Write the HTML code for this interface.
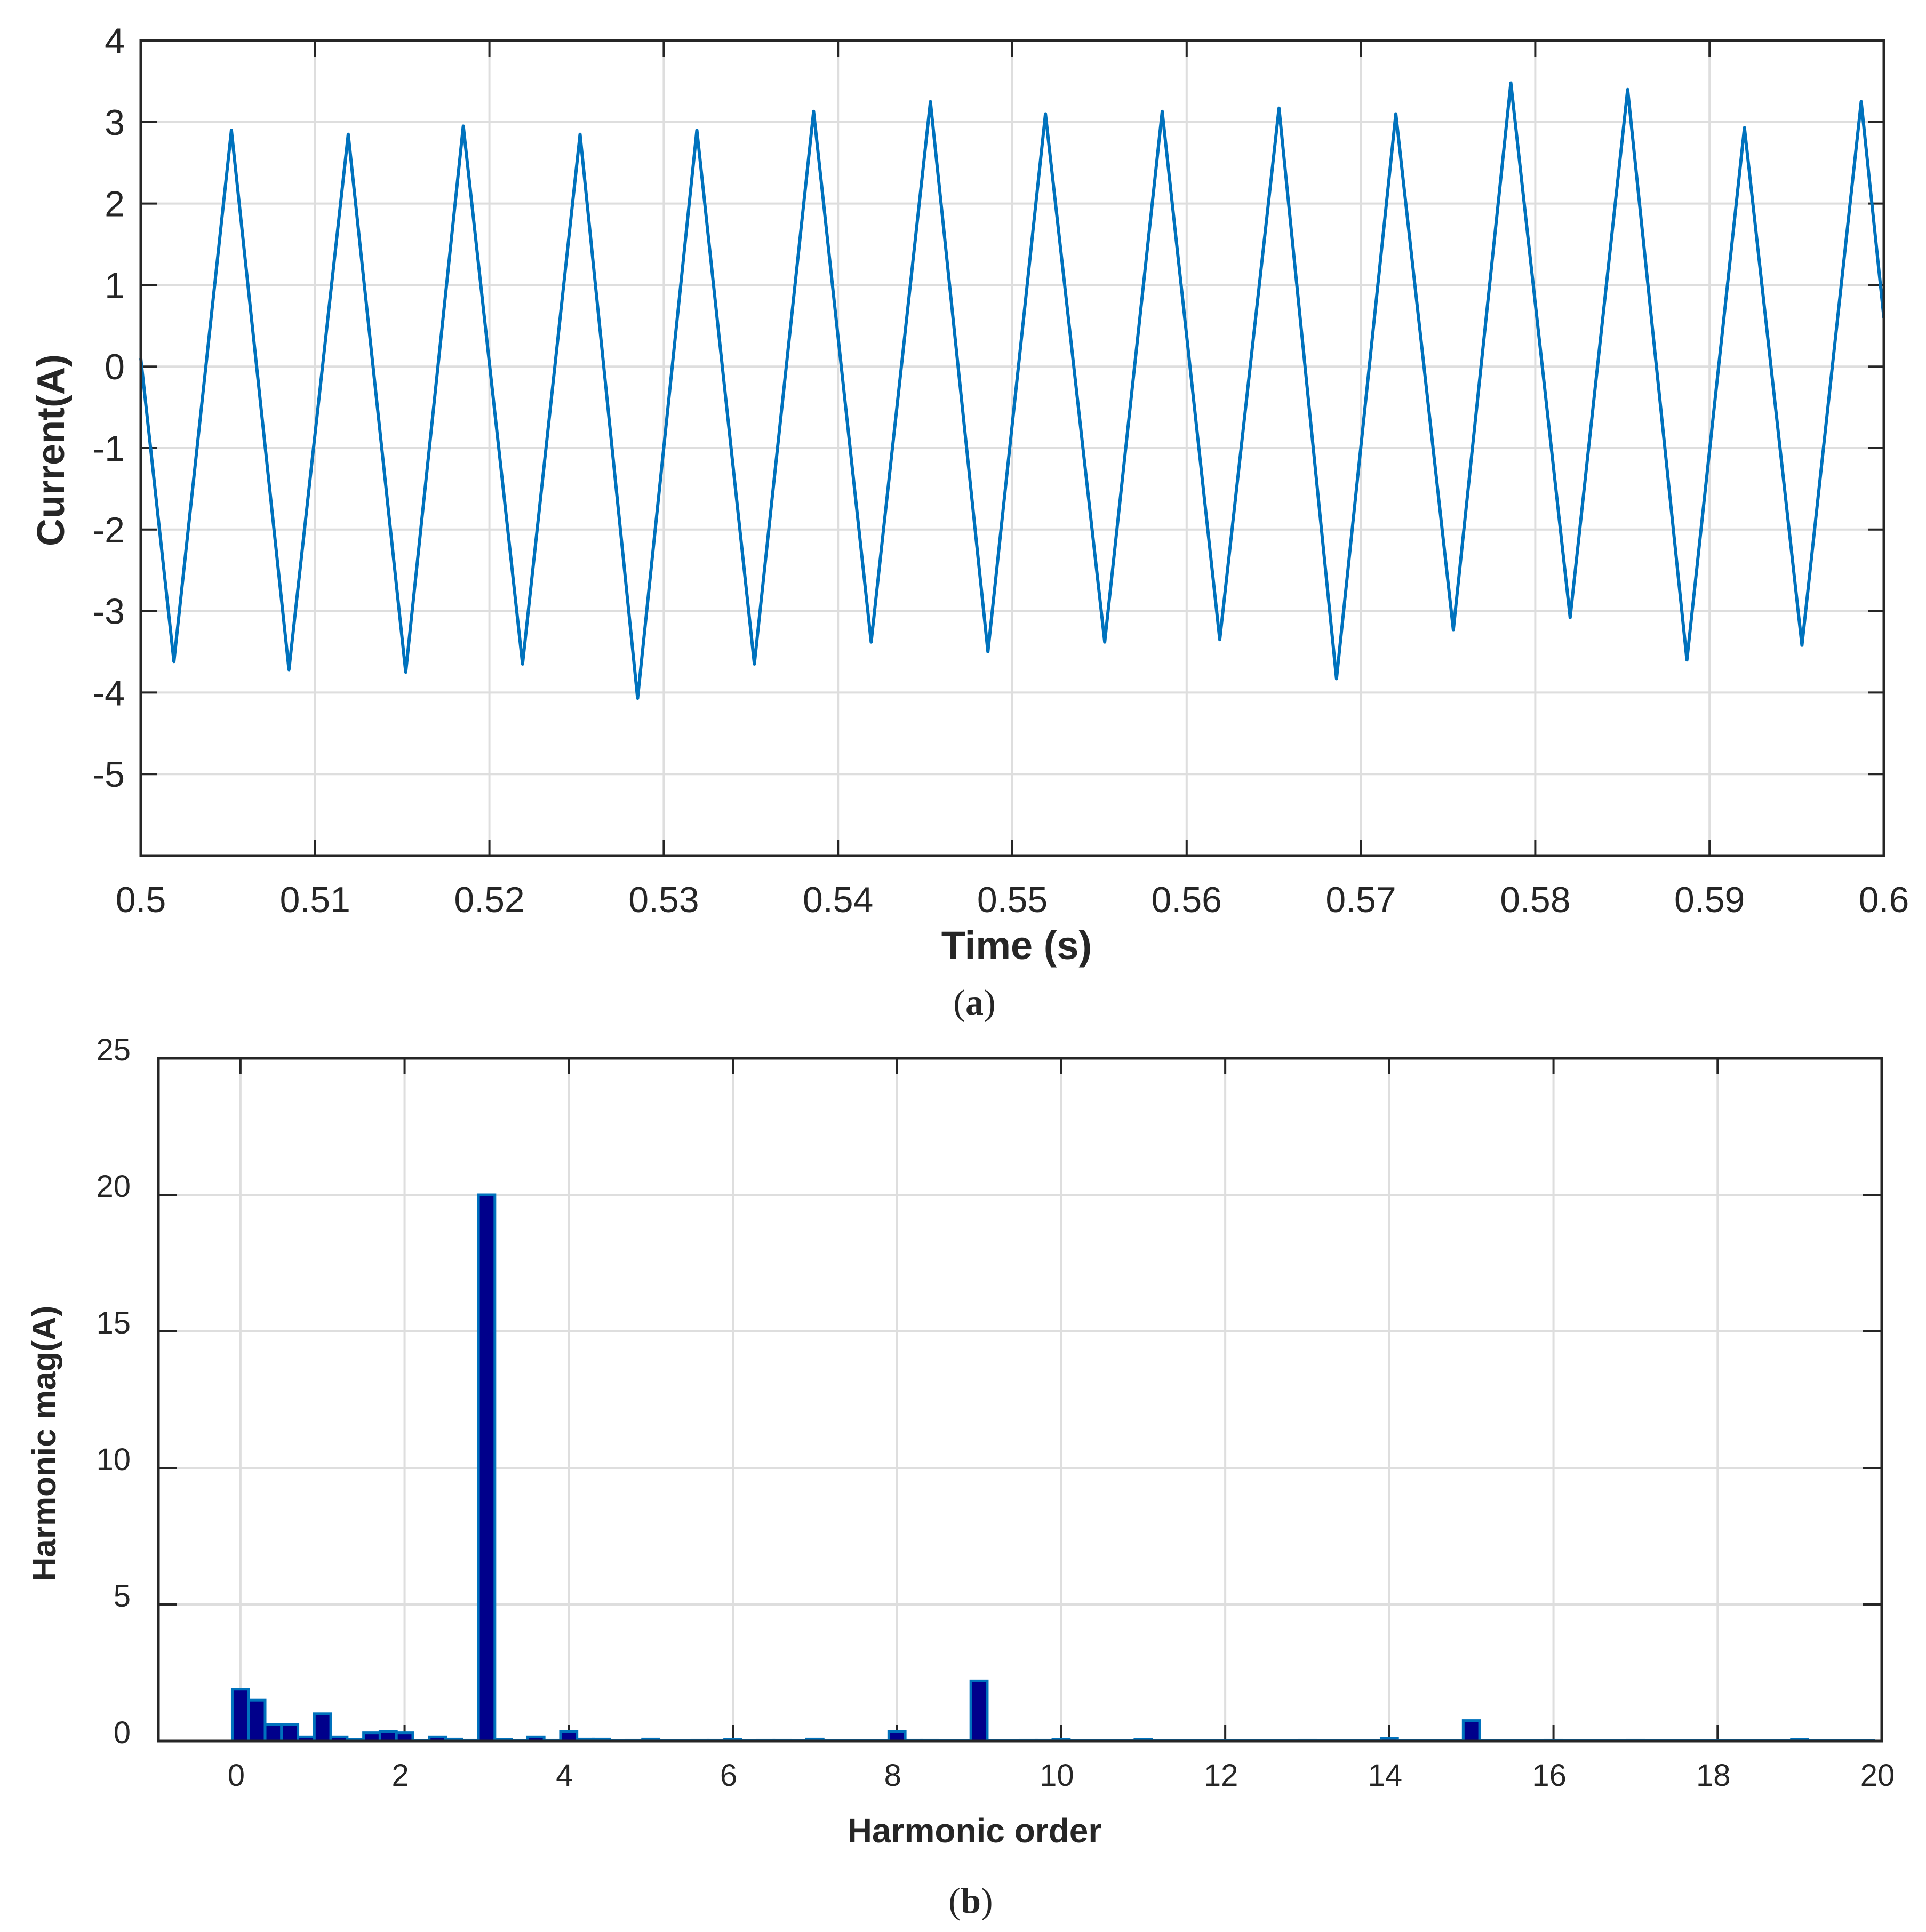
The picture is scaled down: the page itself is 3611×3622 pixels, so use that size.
<!DOCTYPE html>
<html><head><meta charset="utf-8"><style>
html,body{margin:0;padding:0;background:#fff}
svg{display:block}
text{font-family:"Liberation Sans",Arial,sans-serif;fill:#262626}
</style></head><body>
<svg id="fig" width="3611" height="3622" viewBox="0 0 3611 3622" xmlns="http://www.w3.org/2000/svg">
<g id="topChart"></g>
<g id="botChart"></g>
<text x="1827" y="1902" font-size="68" text-anchor="middle" style="font-family:'Liberation Serif',serif">(<tspan font-weight="bold">a</tspan>)</text>
<text x="1820" y="3586" font-size="68" text-anchor="middle" style="font-family:'Liberation Serif',serif">(<tspan font-weight="bold">b</tspan>)</text>
</svg>
<script>
// ---- top chart data ----
const waveT = [0.5,0.5019,0.5052,0.5085,0.5119,0.5152,0.5185,0.5219,0.5252,0.5285,0.5319,0.5352,0.5386,0.5419,0.5453,0.5486,0.5519,0.5553,0.5586,0.5619,0.5653,0.5686,0.5720,0.5753,0.5786,0.5820,0.5853,0.5887,0.5920,0.5953,0.5987,0.6];
const waveI = [0.1,-3.62,2.9,-3.72,2.85,-3.75,2.95,-3.65,2.85,-4.07,2.9,-3.65,3.13,-3.38,3.25,-3.5,3.1,-3.38,3.13,-3.35,3.17,-3.83,3.1,-3.23,3.48,-3.08,3.4,-3.6,2.93,-3.42,3.25,0.6];
const topXTicks = [0.5,0.51,0.52,0.53,0.54,0.55,0.56,0.57,0.58,0.59,0.6];
const topXLabels = ["0.5","0.51","0.52","0.53","0.54","0.55","0.56","0.57","0.58","0.59","0.6"];
const topYTicks = [4,3,2,1,0,-1,-2,-3,-4,-5];
// ---- bottom chart data ----
const harmOrder = [];
for (let i=0;i<100;i++) harmOrder.push(+(i*0.2).toFixed(1));
const harmMag = [1.9,1.5,0.6,0.6,0.15,1.0,0.15,0.05,0.3,0.35,0.3,0.02,0.15,0.07,0.03,20,0.05,0.02,0.15,0.03,
0.35,0.07,0.07,0.02,0.03,0.07,0.02,0.02,0.03,0.03,0.05,0.02,0.03,0.03,0.02,0.07,0.02,0.02,0.02,0.02,
0.35,0.03,0.03,0.02,0.02,2.2,0.02,0.02,0.03,0.03,0.05,0.02,0.02,0.02,0.02,0.05,0.02,0.02,0.02,0.02,
0.02,0.02,0.02,0.02,0.02,0.03,0.02,0.02,0.02,0.02,0.1,0.02,0.02,0.02,0.02,0.75,0.02,0.02,0.02,0.02,
0.03,0.02,0.02,0.02,0.02,0.03,0.02,0.02,0.02,0.02,0.02,0.02,0.02,0.02,0.02,0.05,0.02,0.02,0.02,0.02];
const botXTicks = [0,2,4,6,8,10,12,14,16,18,20];
const botYTicks = [0,5,10,15,20,25];

const NS="http://www.w3.org/2000/svg";
function mk(parent,tag,attrs,txt){const e=document.createElementNS(NS,tag);for(const k in attrs)e.setAttribute(k,attrs[k]);if(txt!==undefined)e.textContent=txt;parent.appendChild(e);return e;}

// top axes
const T={l:264,r:3532,t:76,b:1604,x0:0.5,x1:0.6,y0:-6,y1:4};
const tx=v=>T.l+(v-T.x0)/(T.x1-T.x0)*(T.r-T.l);
const ty=v=>T.b-(v-T.y0)/(T.y1-T.y0)*(T.b-T.t);
const topG=document.getElementById('topChart');
topXTicks.forEach((v,i)=>{
  const g=mk(topG,'line',{x1:tx(v),x2:tx(v),y1:T.t,y2:T.b,stroke:'#dedede','stroke-width':4});
  
  
  mk(topG,'line',{x1:tx(v),x2:tx(v),y1:T.b,y2:T.b-30,stroke:'#262626','stroke-width':4});
  mk(topG,'line',{x1:tx(v),x2:tx(v),y1:T.t,y2:T.t+30,stroke:'#262626','stroke-width':4});
  const l=mk(topG,'text',{x:tx(v),y:1710,'font-size':68,'text-anchor':'middle'},topXLabels[i]);
  
  
});
topYTicks.forEach(v=>{
  const g=mk(topG,'line',{x1:T.l,x2:T.r,y1:ty(v),y2:ty(v),stroke:'#dedede','stroke-width':4});
  
  
  mk(topG,'line',{x1:T.l,x2:T.l+30,y1:ty(v),y2:ty(v),stroke:'#262626','stroke-width':4});
  mk(topG,'line',{x1:T.r,x2:T.r-30,y1:ty(v),y2:ty(v),stroke:'#262626','stroke-width':4});
  const l=mk(topG,'text',{x:234,y:ty(v)+24,'font-size':68,'text-anchor':'end'},String(v));
  
  
});
let d='';
waveT.forEach((t,i)=>{d+=(i?'L':'M')+tx(t).toFixed(1)+' '+ty(waveI[i]).toFixed(1)+' ';});
const wl=mk(topG,'path',{d:d,fill:'none',stroke:'#0072BD','stroke-width':6,'stroke-linejoin':'round'});


const tb=mk(topG,'rect',{x:T.l,y:T.t,width:T.r-T.l,height:T.b-T.t,fill:'none',stroke:'#262626','stroke-width':5});


const xt=mk(topG,'text',{x:1906,y:1798,'font-size':74,'font-weight':'bold','text-anchor':'middle'},'Time (s)');


const yt=mk(topG,'text',{x:0,y:0,'font-size':72,'font-weight':'bold','text-anchor':'middle',transform:'translate(120,844) rotate(-90)'},'Current(A)');



// bottom axes
const B={l:297,r:3528,t:1984,b:3264,x0:-1,x1:20,y0:0,y1:25};
const bx=v=>B.l+(v-B.x0)/(B.x1-B.x0)*(B.r-B.l);
const by=v=>B.b-(v-B.y0)/(B.y1-B.y0)*(B.b-B.t);
const botG=document.getElementById('botChart');
botXTicks.forEach(v=>{
  const g=mk(botG,'line',{x1:bx(v),x2:bx(v),y1:B.t,y2:B.b,stroke:'#dedede','stroke-width':4});
  
  
  mk(botG,'line',{x1:bx(v),x2:bx(v),y1:B.b,y2:B.b-30,stroke:'#262626','stroke-width':4});
  mk(botG,'line',{x1:bx(v),x2:bx(v),y1:B.t,y2:B.t+30,stroke:'#262626','stroke-width':4});
  const l=mk(botG,'text',{x:bx(v)-8,y:3348,'font-size':58,'text-anchor':'middle'},String(v));
  
  
});
botYTicks.forEach(v=>{
  const g=mk(botG,'line',{x1:B.l,x2:B.r,y1:by(v),y2:by(v),stroke:'#dedede','stroke-width':4});
  
  
  mk(botG,'line',{x1:B.l,x2:B.l+35,y1:by(v),y2:by(v),stroke:'#262626','stroke-width':4});
  mk(botG,'line',{x1:B.r,x2:B.r-35,y1:by(v),y2:by(v),stroke:'#262626','stroke-width':4});
  const l=mk(botG,'text',{x:245,y:by(v)+4,'font-size':58,'text-anchor':'end'},String(v));
  
  
});
const bw=bx(0.2)-bx(0);
harmOrder.forEach((h,i)=>{
  const m=harmMag[i];
  const r=mk(botG,'rect',{x:bx(h)-bw/2,y:by(m),width:bw,height:B.b-by(m),fill:'#00008B',stroke:'#0072BD','stroke-width':5});
  
  
});
const bb=mk(botG,'rect',{x:B.l,y:B.t,width:B.r-B.l,height:B.b-B.t,fill:'none',stroke:'#262626','stroke-width':5});


const bxt=mk(botG,'text',{x:1827,y:3454,'font-size':64,'font-weight':'bold','text-anchor':'middle'},'Harmonic order');


const byt=mk(botG,'text',{x:0,y:0,'font-size':62,'font-weight':'bold','text-anchor':'middle',transform:'translate(104,2706) rotate(-90)'},'Harmonic mag(A)');


</script>
</body></html>
